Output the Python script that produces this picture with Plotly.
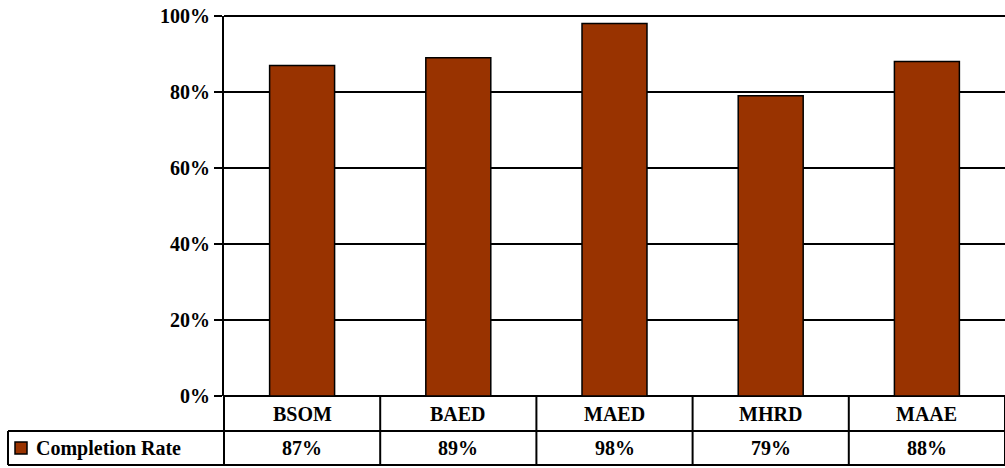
import plotly.graph_objects as go

categories = ["BSOM", "BAED", "MAED", "MHRD", "MAAE"]
completion_rate = [87, 89, 98, 79, 88]
series_name = "Completion Rate"
y_ticks = [0, 20, 40, 60, 80, 100]
y_tick_labels = ["0%", "20%", "40%", "60%", "80%", "100%"]

BAR_COLOR = "#993300"
FONT = "Liberation Serif"

W, H = 1005, 468
ML, MR, MT, MB = 224, 0, 16, 72
plot_w = W - ML - MR
plot_h = H - MT - MB

def py(pix_y):
    # pixel y (from top) -> paper y
    return (H - MB - pix_y) / plot_h

def px(pix_x):
    return (pix_x - ML) / plot_w

fig = go.Figure()
fig.add_trace(go.Bar(
    x=categories, y=completion_rate, name=series_name,
    marker=dict(color=BAR_COLOR, line=dict(color="black", width=1.5)),
    showlegend=False,
))

row1_bot = py(431)
row2_bot = py(465)
n = len(categories)
LW = 2

shapes = []
for yy in (1, 0):
    shapes.append(dict(type="line", xref="paper", yref="paper", x0=0, x1=1, y0=yy, y1=yy,
                       line=dict(color="black", width=LW), layer="below"))
shapes.append(dict(type="line", xref="paper", yref="paper", x0=px(8), x1=1, y0=row1_bot, y1=row1_bot,
                   line=dict(color="black", width=LW)))
shapes.append(dict(type="line", xref="paper", yref="paper", x0=px(8), x1=1, y0=row2_bot, y1=row2_bot,
                   line=dict(color="black", width=LW)))
shapes.append(dict(type="line", xref="paper", yref="paper", x0=px(8), x1=px(8), y0=row1_bot, y1=row2_bot,
                   line=dict(color="black", width=LW)))
for i in range(n + 1):
    xb = i / n
    shapes.append(dict(type="line", xref="paper", yref="paper", x0=xb, x1=xb, y0=0, y1=row2_bot,
                       line=dict(color="black", width=LW)))
shapes.append(dict(type="rect", xref="paper", yref="paper", x0=px(15), x1=px(27), y0=py(454), y1=py(442),
                   fillcolor=BAR_COLOR, line=dict(color="black", width=1.5)))

cell_font = dict(family=FONT, size=20, color="black", weight="bold")
annotations = []
for c, v in zip(categories, completion_rate):
    annotations.append(dict(x=c, xref="x", y=(0 + row1_bot) / 2, yref="paper", text=c, showarrow=False,
                            font=cell_font, xanchor="center", yanchor="middle"))
    annotations.append(dict(x=c, xref="x", y=(row1_bot + row2_bot) / 2, yref="paper", text=f"{v}%",
                            showarrow=False, font=cell_font, xanchor="center", yanchor="middle"))
annotations.append(dict(x=px(34), xref="paper", y=(row1_bot + row2_bot) / 2, yref="paper", text=series_name,
                        showarrow=False, font=cell_font, xanchor="left", yanchor="middle"))

fig.update_layout(
    width=W, height=H,
    margin=dict(l=ML, r=MR, t=MT, b=MB),
    paper_bgcolor="white", plot_bgcolor="white",
    bargap=0.584,
    shapes=shapes, annotations=annotations,
    xaxis=dict(showticklabels=False, showgrid=False, zeroline=False, showline=False, ticks="",
               range=[-0.5, n - 0.5]),
    yaxis=dict(range=[0, 100], tickvals=y_ticks, ticktext=y_tick_labels,
               tickfont=dict(family=FONT, size=20, color="black", weight="bold"),
               ticks="outside", ticklen=8, tickcolor="black", tickwidth=1.5,
               showgrid=True, gridcolor="black", gridwidth=1.5,
               showline=True, linecolor="black", linewidth=2, zeroline=False),
)
fig.write_html("out.html", config={"displayModeBar": False},
               post_script="document.body.style.margin='0';document.body.style.overflow='hidden';")
